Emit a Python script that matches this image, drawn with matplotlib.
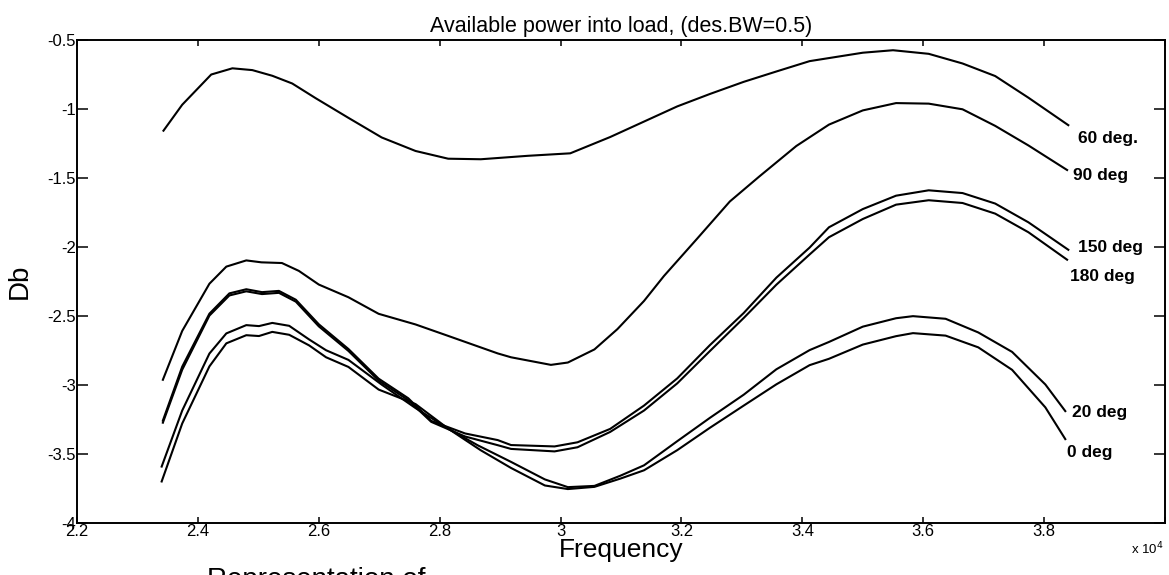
import matplotlib
matplotlib.use("Agg")
import matplotlib.pyplot as plt

plt.rcParams['font.family'] = ['Liberation Sans', 'DejaVu Sans']
plt.rcParams['axes.unicode_minus'] = False

# ---------------- data (frequency in units of 1e4, power in dB) ----------------
x_60 = [2.343, 2.374, 2.422, 2.457, 2.490, 2.523, 2.556, 2.595, 2.649, 2.704, 2.760, 2.814,
        2.868, 2.946, 3.016, 3.082, 3.138, 3.193, 3.247, 3.303, 3.357, 3.412, 3.500, 3.550,
        3.609, 3.665, 3.719, 3.774, 3.840]
db_60 = [-1.157, -0.969, -0.750, -0.705, -0.718, -0.759, -0.815, -0.922, -1.064, -1.206, -1.304, -1.360,
         -1.364, -1.339, -1.321, -1.203, -1.091, -0.981, -0.891, -0.803, -0.728, -0.653, -0.592, -0.574,
         -0.600, -0.670, -0.761, -0.918, -1.117]

x_90 = [2.342, 2.374, 2.419, 2.447, 2.480, 2.505, 2.539, 2.567, 2.600, 2.649, 2.699, 2.760,
        2.814, 2.896, 2.918, 2.984, 3.012, 3.056, 3.094, 3.138, 3.171, 3.226, 3.280, 3.329,
        3.390, 3.444, 3.500, 3.555, 3.609, 3.665, 3.719, 3.774, 3.838]
db_90 = [-2.962, -2.608, -2.266, -2.142, -2.097, -2.111, -2.116, -2.173, -2.272, -2.364, -2.484, -2.561,
         -2.644, -2.771, -2.799, -2.854, -2.837, -2.742, -2.595, -2.391, -2.210, -1.939, -1.670, -1.488,
         -1.268, -1.113, -1.010, -0.957, -0.961, -1.002, -1.122, -1.264, -1.442]

x_150 = [2.342, 2.374, 2.419, 2.452, 2.480, 2.506, 2.534, 2.562, 2.600, 2.649, 2.699, 2.748,
         2.786, 2.842, 2.896, 2.918, 2.990, 3.028, 3.082, 3.138, 3.193, 3.247, 3.303, 3.357,
         3.412, 3.444, 3.500, 3.555, 3.609, 3.665, 3.719, 3.774, 3.840]
db_150 = [-3.258, -2.867, -2.483, -2.336, -2.306, -2.327, -2.318, -2.382, -2.560, -2.739, -2.954, -3.096,
          -3.260, -3.351, -3.399, -3.435, -3.445, -3.415, -3.318, -3.149, -2.952, -2.711, -2.478, -2.222,
          -2.004, -1.857, -1.725, -1.628, -1.589, -1.609, -1.685, -1.821, -2.020]

x_180 = [2.342, 2.374, 2.419, 2.452, 2.480, 2.506, 2.534, 2.562, 2.600, 2.649, 2.699, 2.748,
         2.786, 2.842, 2.896, 2.918, 2.990, 3.028, 3.082, 3.138, 3.193, 3.247, 3.303, 3.357,
         3.412, 3.444, 3.500, 3.555, 3.609, 3.665, 3.719, 3.774, 3.838]
db_180 = [-3.273, -2.889, -2.497, -2.351, -2.321, -2.341, -2.332, -2.396, -2.575, -2.753, -2.968, -3.110,
          -3.267, -3.373, -3.436, -3.463, -3.481, -3.451, -3.340, -3.185, -2.988, -2.754, -2.514, -2.273,
          -2.054, -1.929, -1.797, -1.693, -1.661, -1.681, -1.758, -1.893, -2.092]

x_20 = [2.340, 2.374, 2.419, 2.447, 2.480, 2.501, 2.523, 2.551, 2.584, 2.612, 2.649, 2.704,
        2.760, 2.814, 2.863, 2.918, 2.974, 3.012, 3.056, 3.099, 3.138, 3.193, 3.247, 3.303,
        3.357, 3.412, 3.444, 3.500, 3.555, 3.583, 3.637, 3.691, 3.747, 3.802, 3.835]
db_20 = [-3.591, -3.185, -2.772, -2.626, -2.566, -2.573, -2.550, -2.571, -2.670, -2.748, -2.818, -2.997,
         -3.167, -3.316, -3.437, -3.557, -3.684, -3.740, -3.731, -3.657, -3.582, -3.407, -3.238, -3.070,
         -2.886, -2.747, -2.688, -2.577, -2.516, -2.501, -2.520, -2.619, -2.760, -2.996, -3.189]

x_0 = [2.340, 2.374, 2.419, 2.447, 2.480, 2.501, 2.523, 2.551, 2.584, 2.612, 2.649, 2.699,
       2.760, 2.814, 2.868, 2.918, 2.974, 3.012, 3.056, 3.099, 3.138, 3.193, 3.247, 3.303,
       3.357, 3.412, 3.444, 3.500, 3.555, 3.583, 3.637, 3.691, 3.747, 3.802, 3.835]
db_0 = [-3.699, -3.279, -2.865, -2.698, -2.639, -2.645, -2.615, -2.636, -2.713, -2.799, -2.869, -3.033,
        -3.138, -3.316, -3.473, -3.601, -3.728, -3.754, -3.738, -3.678, -3.618, -3.472, -3.310, -3.149,
        -2.995, -2.856, -2.810, -2.707, -2.646, -2.624, -2.642, -2.727, -2.890, -3.162, -3.392]

curve_labels = ["60 deg.", "90 deg", "150 deg", "180 deg", "20 deg", "0 deg"]
x_ticks = [2.2, 2.4, 2.6, 2.8, 3.0, 3.2, 3.4, 3.6, 3.8, 4.0]
x_tick_labels = ["2.2", "2.4", "2.6", "2.8", "3", "3.2", "3.4", "3.6", "3.8", ""]
y_ticks = [-0.5, -1, -1.5, -2, -2.5, -3, -3.5, -4]
y_tick_labels = ["-0.5", "-1", "-1.5", "-2", "-2.5", "-3", "-3.5", "-4"]

# label anchor positions (layout only)
label_pos = [(3.856, -1.21), (3.848, -1.485), (3.856, -2.00),
             (3.843, -2.215), (3.846, -3.196), (3.838, -3.49)]

# ---------------- figure ----------------
fig = plt.figure(figsize=(11.69, 5.75), dpi=100)
ax = fig.add_axes([0.0659, 0.0904, 0.9307, 0.840])

series = [(x_60, db_60), (x_90, db_90), (x_150, db_150),
          (x_180, db_180), (x_20, db_20), (x_0, db_0)]
for (xs, ys) in series:
    ax.plot(xs, ys, color='black', lw=1.5, solid_joinstyle='round')

for lab, (lx, ly) in zip(curve_labels, label_pos):
    ax.text(lx, ly, lab, fontsize=12.5, fontweight='bold', ha='left', va='center')

ax.set_xlim(2.2, 4.0)
ax.set_ylim(-4, -0.5)
ax.set_xticks(x_ticks)
ax.set_xticklabels(x_tick_labels, fontsize=12)
ax.set_yticks(y_ticks)
ax.set_yticklabels(y_tick_labels, fontsize=12)

ax.tick_params(axis='both', which='both', direction='in', top=True, right=True,
               labeltop=False, labelright=False, width=1.1)
ax.tick_params(axis='y', length=8, pad=1)
ax.tick_params(axis='x', length=4, pad=1)
for s in ax.spines.values():
    s.set_linewidth(1.4)

ax.set_title("Available power into load, (des.BW=0.5)", fontsize=15.5, pad=6)
ax.set_xlabel("Frequency", fontsize=19, labelpad=-1)
ax.set_ylabel("Db", fontsize=20, labelpad=10)

fig.text(0.995, 1 - 549 / 575, r"x 10$^{4}$", fontsize=9.5, ha='right', va='center')
fig.text(0.177, 1 - 567 / 575, "Representation of", fontsize=20, ha='left', va='top')

fig.savefig("out.png", dpi=100)
